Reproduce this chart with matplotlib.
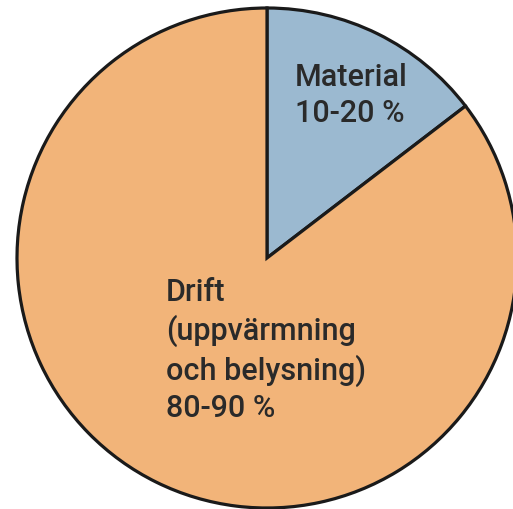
import matplotlib
matplotlib.use("Agg")
import matplotlib.pyplot as plt

categories = ["Material", "Drift"]
values = [14.6, 85.4]
labels = ["Material\n10-20 %", "Drift\n(uppvärmning\noch belysning)\n80-90 %"]
colors = ["#9bb9d0", "#f2b479"]

W, H = 513, 509
fig = plt.figure(figsize=(W / 100, H / 100), dpi=100)
ax = fig.add_axes([0, 0, 1, 1])

cx, cy, r = 267, H - 258, 250
ax.pie(values, colors=colors, startangle=90, counterclock=False,
       center=(cx, cy), radius=r, frame=True,
       wedgeprops=dict(edgecolor="#1a1a1a", linewidth=2.3))
ax.set_xlim(0, W)
ax.set_ylim(0, H)
ax.set_aspect("equal")
ax.axis("off")

txt_kw = dict(fontsize=22, color="#2a2a2a", family="Roboto", weight="medium",
              ha="left", va="top", linespacing=1.31)
ax.text(295, H - 63, labels[0], **txt_kw)
ax.text(166, H - 278, labels[1], **txt_kw)

fig.savefig("out.png", dpi=100, facecolor="white")
